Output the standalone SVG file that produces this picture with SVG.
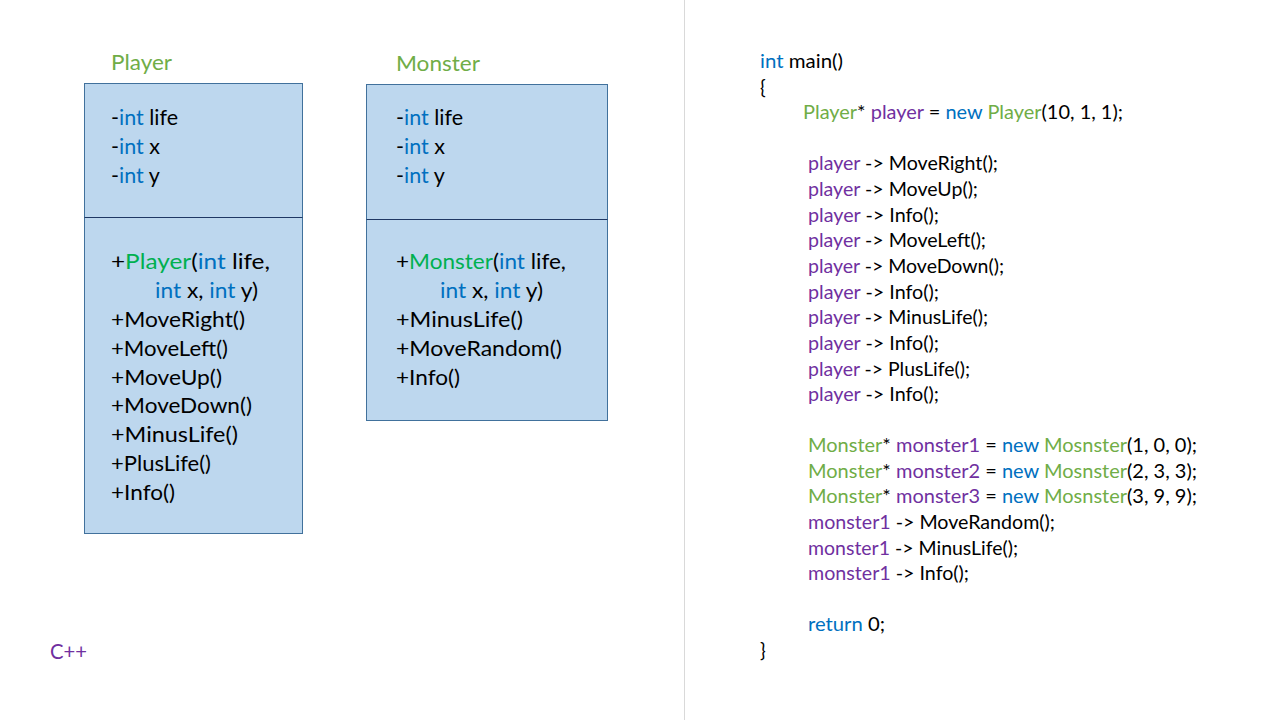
<svg xmlns="http://www.w3.org/2000/svg" width="1280" height="720" viewBox="0 0 1280 720">
<style>
text{font-family:Lato,"Open Sans","Liberation Sans",sans-serif;fill:#000}
.b{font-size:21.5px}
.c{font-size:19px}
.t{font-size:21.5px;fill:#70AD47}
.k{fill:#0070C0}
.g{fill:#70AD47}
.cg{fill:#00B050}
.p{fill:#7030A0}
.box{fill:#BDD7EE;stroke:#41719C;stroke-width:1}
.div{stroke:#1F3864;stroke-width:1}
</style>
<rect width="1280" height="720" fill="#fff"/>
<line x1="684.5" y1="0" x2="684.5" y2="720" stroke="#D9D9D9" stroke-width="1"/>
<g id="player">
<text class="t" x="111" y="70" textLength="61" lengthAdjust="spacingAndGlyphs">Player</text>
<rect class="box" x="84.5" y="83.5" width="218" height="450"/>
<line class="div" x1="84.5" y1="217.5" x2="302.5" y2="217.5"/>
<text class="b" x="111" y="125">-<tspan class="k">int</tspan> life</text>
<text class="b" x="111" y="154">-<tspan class="k">int</tspan> x</text>
<text class="b" x="111" y="183">-<tspan class="k">int</tspan> y</text>
<text class="b" x="111" y="269" textLength="159" lengthAdjust="spacingAndGlyphs">+<tspan class="cg">Player</tspan>(<tspan class="k">int</tspan> life,</text>
<text class="b" x="155" y="298" textLength="103" lengthAdjust="spacingAndGlyphs"><tspan class="k">int</tspan> x, <tspan class="k">int</tspan> y)</text>
<text class="b" x="111" y="327" textLength="134" lengthAdjust="spacingAndGlyphs">+MoveRight()</text>
<text class="b" x="111" y="356" textLength="117" lengthAdjust="spacingAndGlyphs">+MoveLeft()</text>
<text class="b" x="111" y="385" textLength="111" lengthAdjust="spacingAndGlyphs">+MoveUp()</text>
<text class="b" x="111" y="413" textLength="141" lengthAdjust="spacingAndGlyphs">+MoveDown()</text>
<text class="b" x="111" y="442" textLength="127" lengthAdjust="spacingAndGlyphs">+MinusLife()</text>
<text class="b" x="111" y="471" textLength="100" lengthAdjust="spacingAndGlyphs">+PlusLife()</text>
<text class="b" x="111" y="500" textLength="64" lengthAdjust="spacingAndGlyphs">+Info()</text>
</g>
<g id="monster">
<text class="t" x="396" y="71" textLength="84" lengthAdjust="spacingAndGlyphs">Monster</text>
<rect class="box" x="366.5" y="84.5" width="241" height="336"/>
<line class="div" x1="366.5" y1="219.5" x2="607.5" y2="219.5"/>
<text class="b" x="396" y="125">-<tspan class="k">int</tspan> life</text>
<text class="b" x="396" y="154">-<tspan class="k">int</tspan> x</text>
<text class="b" x="396" y="183">-<tspan class="k">int</tspan> y</text>
<text class="b" x="396" y="269" textLength="170" lengthAdjust="spacingAndGlyphs">+<tspan class="cg">Monster</tspan>(<tspan class="k">int</tspan> life,</text>
<text class="b" x="440" y="298" textLength="103" lengthAdjust="spacingAndGlyphs"><tspan class="k">int</tspan> x, <tspan class="k">int</tspan> y)</text>
<text class="b" x="396" y="327" textLength="127" lengthAdjust="spacingAndGlyphs">+MinusLife()</text>
<text class="b" x="396" y="356" textLength="166" lengthAdjust="spacingAndGlyphs">+MoveRandom()</text>
<text class="b" x="396" y="385" textLength="64" lengthAdjust="spacingAndGlyphs">+Info()</text>
</g>
<g id="lang">
<text class="b p" x="50" y="659" textLength="37" lengthAdjust="spacingAndGlyphs">C++</text>
</g>
<g id="code">
<text class="c" x="760" y="68" textLength="83" lengthAdjust="spacingAndGlyphs"><tspan class="k">int</tspan> main()</text>
<text class="c" x="760" y="94">{</text>
<text class="c" x="803" y="119" textLength="320" lengthAdjust="spacingAndGlyphs"><tspan class="g">Player</tspan>* <tspan class="p">player</tspan> = <tspan class="k">new</tspan> <tspan class="g">Player</tspan>(10, 1, 1);</text>
<text class="c" x="808" y="170" textLength="190" lengthAdjust="spacingAndGlyphs"><tspan class="p">player</tspan> -&gt; MoveRight();</text>
<text class="c" x="808" y="196" textLength="170" lengthAdjust="spacingAndGlyphs"><tspan class="p">player</tspan> -&gt; MoveUp();</text>
<text class="c" x="808" y="222" textLength="131" lengthAdjust="spacingAndGlyphs"><tspan class="p">player</tspan> -&gt; Info();</text>
<text class="c" x="808" y="247" textLength="178" lengthAdjust="spacingAndGlyphs"><tspan class="p">player</tspan> -&gt; MoveLeft();</text>
<text class="c" x="808" y="273" textLength="196" lengthAdjust="spacingAndGlyphs"><tspan class="p">player</tspan> -&gt; MoveDown();</text>
<text class="c" x="808" y="299" textLength="131" lengthAdjust="spacingAndGlyphs"><tspan class="p">player</tspan> -&gt; Info();</text>
<text class="c" x="808" y="324" textLength="180" lengthAdjust="spacingAndGlyphs"><tspan class="p">player</tspan> -&gt; MinusLife();</text>
<text class="c" x="808" y="350" textLength="131" lengthAdjust="spacingAndGlyphs"><tspan class="p">player</tspan> -&gt; Info();</text>
<text class="c" x="808" y="376" textLength="162" lengthAdjust="spacingAndGlyphs"><tspan class="p">player</tspan> -&gt; PlusLife();</text>
<text class="c" x="808" y="401" textLength="131" lengthAdjust="spacingAndGlyphs"><tspan class="p">player</tspan> -&gt; Info();</text>
<text class="c" x="808" y="452" textLength="389" lengthAdjust="spacingAndGlyphs"><tspan class="g">Monster</tspan>*  <tspan class="p">monster1</tspan> = <tspan class="k">new</tspan> <tspan class="g">Mosnster</tspan>(1,  0, 0);</text>
<text class="c" x="808" y="478" textLength="389" lengthAdjust="spacingAndGlyphs"><tspan class="g">Monster</tspan>*  <tspan class="p">monster2</tspan> = <tspan class="k">new</tspan> <tspan class="g">Mosnster</tspan>(2,  3, 3);</text>
<text class="c" x="808" y="503" textLength="389" lengthAdjust="spacingAndGlyphs"><tspan class="g">Monster</tspan>*  <tspan class="p">monster3</tspan> = <tspan class="k">new</tspan> <tspan class="g">Mosnster</tspan>(3,  9, 9);</text>
<text class="c" x="808" y="529" textLength="247" lengthAdjust="spacingAndGlyphs"><tspan class="p">monster1</tspan> -&gt; MoveRandom();</text>
<text class="c" x="808" y="555" textLength="210" lengthAdjust="spacingAndGlyphs"><tspan class="p">monster1</tspan> -&gt; MinusLife();</text>
<text class="c" x="808" y="580" textLength="161" lengthAdjust="spacingAndGlyphs"><tspan class="p">monster1</tspan> -&gt; Info();</text>
<text class="c" x="808" y="631" textLength="77" lengthAdjust="spacingAndGlyphs"><tspan class="k">return</tspan> 0;</text>
<text class="c" x="760" y="657">}</text>
</g>
</svg>
